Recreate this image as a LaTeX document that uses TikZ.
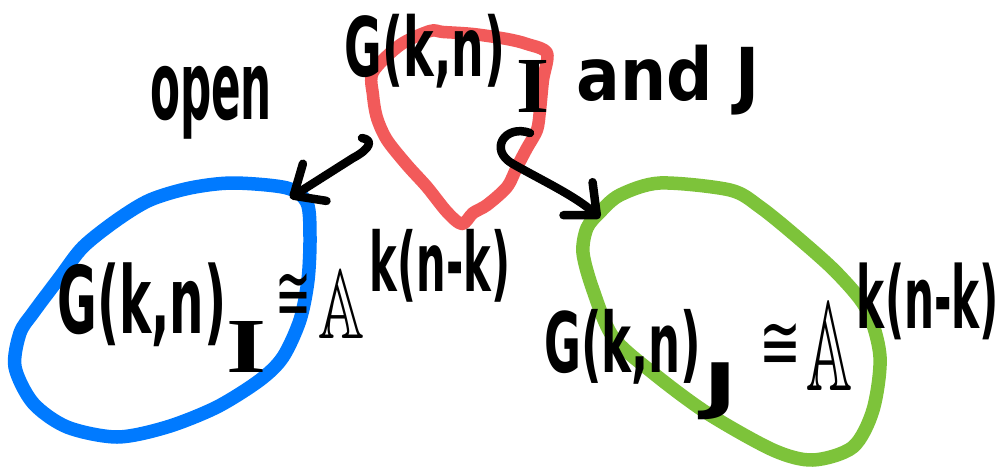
\documentclass[tikz,border=0pt]{standalone}
\usepackage{fontspec}
\setmainfont{DejaVu Sans}
\newfontfamily\serifI{Liberation Serif}
\usepackage{amssymb}
\usepackage{graphicx}
\usetikzlibrary{arrows.meta}
\definecolor{hred}{HTML}{F25A5A}
\definecolor{hblue}{HTML}{007AFF}
\definecolor{hgreen}{HTML}{7DC33A}
\tikzset{
  hand/.style={line width=13.5pt, line cap=round, line join=round},
  ink/.style={line width=8.5pt, line cap=round, line join=round, black},
  arr/.style={ink, -{Straight Barb[length=25pt,width=44pt,round]}},
  lbl/.style={inner sep=0pt, outer sep=0pt, font=\bfseries},
}
\newcommand{\fitbox}[3]{\resizebox*{#1pt}{#2pt}{#3}}
\begin{document}
\begin{tikzpicture}[x=1pt,y=-1pt]
\useasboundingbox (0,0) rectangle (1006,468);
% red region
\draw[hand, hred, line width=12.5pt] plot[smooth cycle, tension=0.5] coordinates {
 (373,72) (400,45) (430,31) (443,32) (473,34) (507,39) (527,44) (547,53)
 (543,80) (540,110) (537,130) (527,148) (517,167) (507,187) (487,205)
 (473,213) (462,224) (447,212) (427,187) (407,165) (387,140) (377,118) (373,95)};
% blue region
\draw[hand, hblue] plot[smooth cycle] coordinates {
 (15,367) (20,333) (33,313) (60,277) (83,247) (117,220) (150,200) (190,188)
 (233,183) (287,188) (307,203) (310,237) (308,280) (300,320) (283,357)
 (260,380) (217,407) (167,427) (117,437) (67,427) (33,403)};
% green region
\draw[hand, hgreen] plot[smooth cycle] coordinates {
 (587,228) (600,212) (620,195) (660,183) (730,190) (760,207) (797,237)
 (837,273) (867,310) (880,357) (873,410) (853,447) (813,460) (773,450)
 (707,413) (653,373) (613,337) (593,290) (583,253)};
% arrows
\coordinate (a1s) at (362,138);
\coordinate (a1t) at (290,198);
\coordinate (a2s) at (530,133);
\coordinate (a2t) at (600,218);
\draw[arr] (a1s) .. controls (374,140) and (370,149) .. (353,158) -- (a1t);
\draw[arr] (a2s) .. controls (505,124) and (488,150) .. (513,164)
  .. controls (545,182) and (575,196) .. (a2t);
% top labels
\node[lbl] (tG) at (425,51) {\fitbox{160}{74}{G(k,n)}};
\node[lbl] (tI) at (533,86) {\fitbox{33}{52}{\serifI\bfseries I}};
\node[lbl] (open) at (211,103) {\fitbox{122}{73}{open}};
\node[lbl] (andJ) at (668,80) {\fitbox{183}{70}{and J}};
% left formula
\node[lbl] (lG) at (142,305) {\fitbox{169}{84}{G(k,n)}};
\node[lbl] (lI) at (247,347) {\fitbox{40}{51}{\serifI\bfseries I}};
\node[lbl] (lcong) at (293,297) {\fitbox{36}{47}{\mdseries ≅}};
\node[lbl] (lA) at (342,304) {\fitbox{46}{68}{$\mathbb{A}$}};
\node[lbl] (lsup) at (440,266) {\fitbox{140}{73}{k(n-k)}};
% right formula
\node[lbl] (rG) at (623,347) {\fitbox{157}{75}{G(k,n)}};
\node[lbl] (rJ) at (720,391) {\fitbox{34}{57}{J}};
\node[lbl] (rcong) at (780,346) {\fitbox{42}{46}{\mdseries ≅}};
\node[lbl] (rA) at (829,346) {\fitbox{46}{88}{$\mathbb{A}$}};
\node[lbl] (rsup) at (928,301) {\fitbox{142}{77}{k(n-k)}};
\end{tikzpicture}
\end{document}
